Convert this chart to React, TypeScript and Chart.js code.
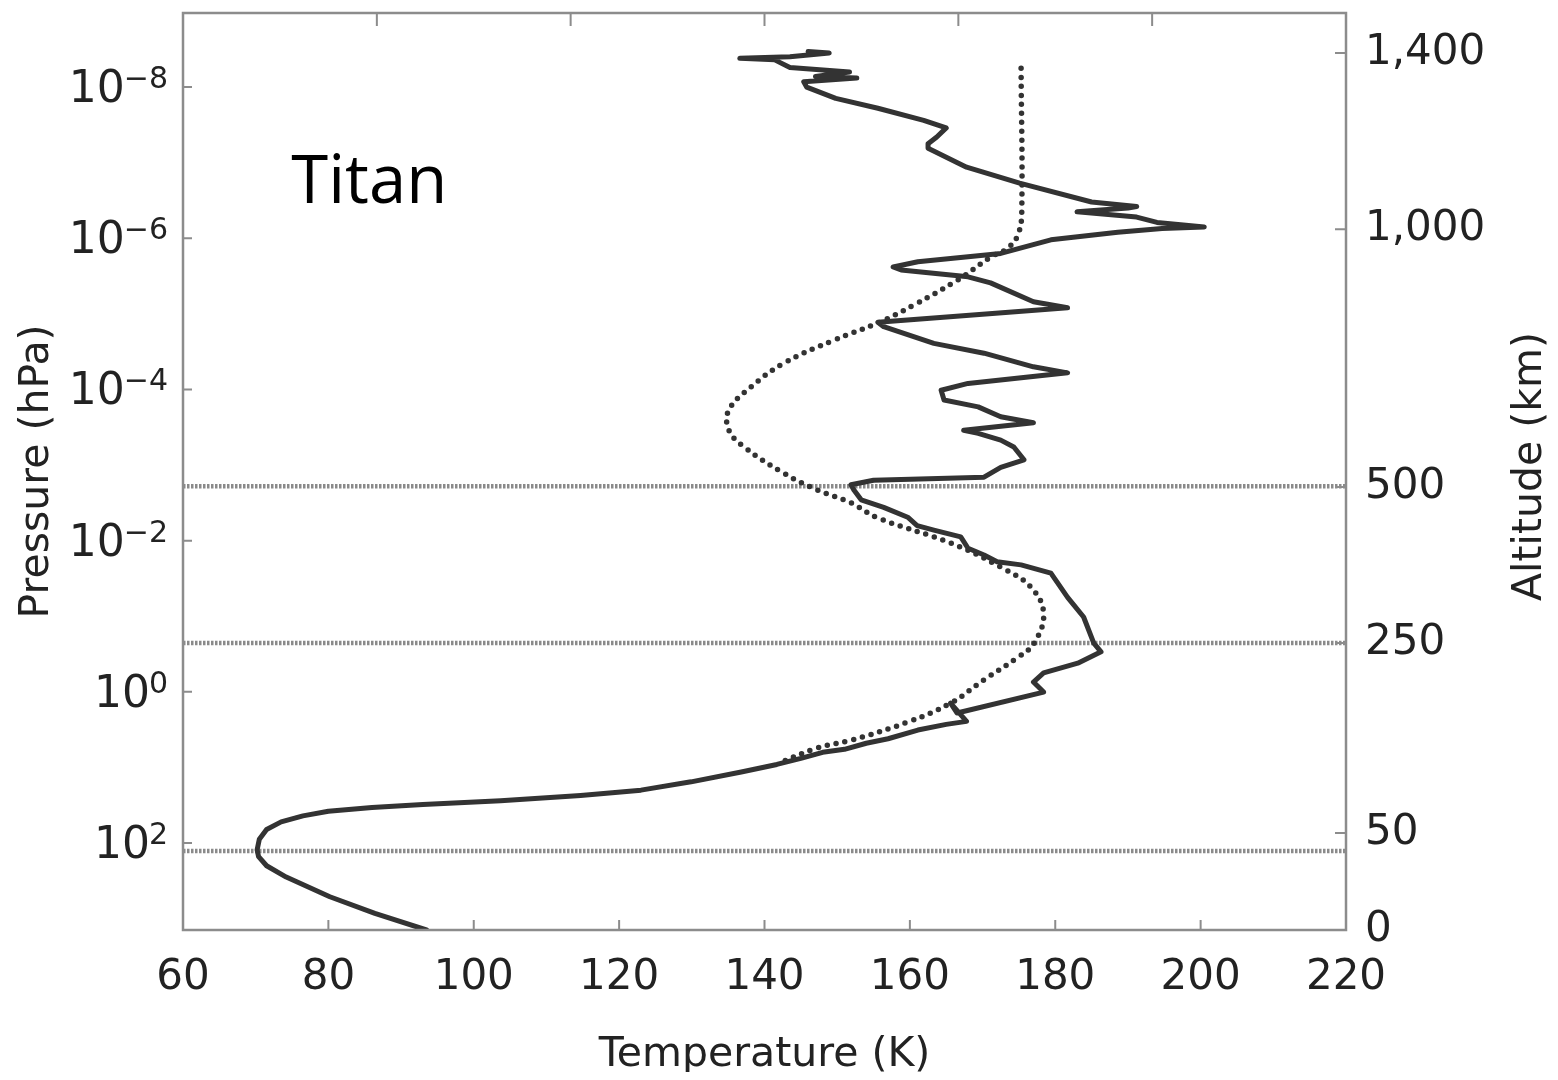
import React, { useEffect, useRef } from 'react';
import { Chart, registerables } from 'chart.js';

Chart.register(...registerables);

// ---- Data ----
// Measured temperature profile (solid), from surface upward
const solidTemp = [
  93.5, 86.4, 80.2, 74.2, 71.5, 70.4, 70.2, 70.5, 71.5, 73.5, 76.5, 80, 86, 93, 103.7, 114.7, 123, 129.9, 136.8,
  141.7, 145, 148, 151, 154, 157, 161.1, 165, 167.8, 165.6, 166.5, 178.4, 177, 178.4, 183.1, 186.3, 185.3, 183.9,
  181.7, 179.4, 175.3, 172, 170.2, 168, 167, 163.3, 161, 159.7, 156.4, 153.3, 152.3, 151.9, 155, 170.2, 172.5,
  175.7, 174.3, 172.5, 169.4, 167.4, 177, 172.5, 169.4, 164.7, 164.3, 168, 181.7, 177, 170.2, 163.3, 156.4, 155.6,
  181.7, 177, 171.1, 168, 158.8, 157.7, 161.1, 172.5, 179.4, 188.6, 194.7, 200.5, 194, 191.2, 183, 190, 191.2, 185,
  175.1, 167.8, 162.5, 162.5, 163.7, 165, 161.9, 155.6, 149.8, 145.8, 145.4, 152.7, 147, 151.7, 143.5, 141.4, 136.6,
  143.5, 148.9, 146,
];
const solidLogP = [
  3.15, 2.93, 2.71, 2.45, 2.3, 2.18, 2.09, 1.95, 1.82, 1.72, 1.64, 1.58, 1.53, 1.49, 1.44, 1.37, 1.3, 1.19, 1.06,
  0.96, 0.88, 0.8, 0.76, 0.68, 0.62, 0.505, 0.43, 0.39, 0.15, 0.28, 0.003, -0.13, -0.25, -0.38, -0.53, -0.645, -0.99,
  -1.25, -1.57, -1.68, -1.72, -1.81, -1.9, -2.05, -2.14, -2.2, -2.31, -2.44, -2.54, -2.67, -2.74, -2.8, -2.84, -2.97,
  -3.07, -3.24, -3.33, -3.42, -3.46, -3.56, -3.64, -3.77, -3.86, -3.99, -4.08, -4.22, -4.3, -4.48, -4.61, -4.83, -4.89,
  -5.08, -5.16, -5.41, -5.49, -5.58, -5.62, -5.69, -5.8, -5.98, -6.08, -6.13, -6.15, -6.21, -6.28, -6.35, -6.4, -6.42, -6.48,
  -6.73, -6.94, -7.19, -7.25, -7.34, -7.46, -7.56, -7.72, -7.85, -8.0, -8.07, -8.12, -8.14, -8.2, -8.26, -8.36, -8.38,
  -8.4, -8.45, -8.47,
];

// Model profile (dotted), from top downward
const modelTemp = [
  175.3, 175.4, 175.0, 173.6, 171.1, 166.6, 160.6, 155.6, 149.5, 142.7, 138.1, 135.1, 135.1, 137.2, 142.7,
  147.3, 151.9, 155.6, 165.6, 172.5, 176.6, 178.4, 177.1, 174.9, 170.2, 165.6, 159.7, 151.9, 147.3, 142.3,
];
const modelLogP = [
  -8.25, -6.41, -6.08, -5.88, -5.75, -5.45, -5.12, -4.88, -4.65, -4.35, -4.03, -3.73, -3.46, -3.24, -2.89,
  -2.67, -2.5, -2.3, -1.97, -1.65, -1.39, -1.04, -0.645, -0.46, -0.16, 0.15, 0.4, 0.64, 0.74, 0.93,
];

// Horizontal reference levels (log10 hPa)
const refLineLogP = [-2.72, -0.645, 2.106];

// Axes
const tempMin = 60;
const tempMax = 220;
const tempStep = 20;
const topTickTemps = [86.67, 113.33, 140, 166.67, 193.33];
const logPMin = -8.98;
const logPMax = 3.15;
const pressureTickExps = [-8, -6, -4, -2, 0, 2];
const altitudeLabels = ['1,400', '1,000', '500', '250', '50', '0'];
const altitudeLogP = [-8.45, -6.12, -2.71, -0.645, 1.868, 3.15];

const titanLabel = 'Titan';
const titanLabelT = 74.9;
const titanLabelLogP = -6.47;

const FONT = "'DejaVu Sans', 'Liberation Sans', sans-serif";
const INK = '#222';
const AXIS_GREY = '#8c8c8c';

const noPad = (s: any) => {
  s.paddingTop = 0;
  s.paddingBottom = 0;
  s.paddingLeft = 0;
  s.paddingRight = 0;
};

const decorPlugin = {
  id: 'decor',
  afterDatasetsDraw(chart: any) {
    const { ctx, chartArea: a, scales } = chart;
    const xs = scales.x;
    const ys = scales.y;
    const y2 = scales.y2;
    ctx.save();
    // inward tick marks
    ctx.strokeStyle = AXIS_GREY;
    ctx.lineWidth = 2;
    ctx.beginPath();
    for (let t = tempMin + tempStep; t < tempMax; t += tempStep) {
      const px = xs.getPixelForValue(t);
      ctx.moveTo(px, a.bottom);
      ctx.lineTo(px, a.bottom - 10);
    }
    for (const t of topTickTemps) {
      const px = xs.getPixelForValue(t);
      ctx.moveTo(px, a.top);
      ctx.lineTo(px, a.top + 13);
    }
    for (const e of pressureTickExps) {
      const py = ys.getPixelForValue(Math.pow(10, e));
      ctx.moveTo(a.left, py);
      ctx.lineTo(a.left + 9, py);
    }
    for (const lp of altitudeLogP) {
      const py = y2.getPixelForValue(Math.pow(10, lp));
      if (Math.abs(py - a.bottom) < 2) continue;
      ctx.moveTo(a.right, py);
      ctx.lineTo(a.right - 11, py);
    }
    ctx.stroke();
    // frame
    ctx.lineWidth = 2.5;
    ctx.strokeRect(a.left, a.top, a.right - a.left, a.bottom - a.top);

    // left tick labels 10^n
    ctx.fillStyle = INK;
    const rightEdge = a.left - 15;
    for (const e of pressureTickExps) {
      const py = ys.getPixelForValue(Math.pow(10, e));
      const sup = e < 0 ? '\u2212' + Math.abs(e) : String(e);
      ctx.font = `30px ${FONT}`;
      const supW = ctx.measureText(sup).width;
      ctx.textAlign = 'left';
      ctx.textBaseline = 'alphabetic';
      ctx.fillText(sup, rightEdge - supW, py + 1);
      ctx.font = `44px ${FONT}`;
      ctx.textAlign = 'right';
      ctx.fillText('10', rightEdge - supW + 1, py + 15);
    }

    // right axis title (reads bottom to top)
    ctx.save();
    ctx.font = `41px ${FONT}`;
    ctx.fillStyle = INK;
    ctx.textAlign = 'center';
    ctx.textBaseline = 'middle';
    ctx.translate(y2.right - 20, (a.top + a.bottom) / 2 - 5);
    ctx.rotate(-Math.PI / 2);
    ctx.fillText('Altitude (km)', 0, 0);
    ctx.restore();

    // Titan label
    ctx.font = `67px 'Open Sans', 'Noto Sans', sans-serif`;
    ctx.fillStyle = '#000';
    ctx.textAlign = 'left';
    ctx.textBaseline = 'alphabetic';
    ctx.fillText(titanLabel, xs.getPixelForValue(titanLabelT), ys.getPixelForValue(Math.pow(10, titanLabelLogP)));
    ctx.restore();
  },
};

export default function App() {
  const ref = useRef<HTMLCanvasElement | null>(null);
  useEffect(() => {
    if (!ref.current) return;
    const solid = solidTemp.map((t, i) => ({ x: t, y: Math.pow(10, solidLogP[i]) }));
    const model = modelTemp.map((t, i) => ({ x: t, y: Math.pow(10, modelLogP[i]) }));
    const refSets = refLineLogP.map((lp) => ({
      data: [
        { x: tempMin, y: Math.pow(10, lp) },
        { x: tempMax, y: Math.pow(10, lp) },
      ],
      borderColor: '#8a8a8a',
      borderWidth: 4.5,
      borderDash: [2.5, 1.5],
      pointRadius: 0,
      showLine: true,
      yAxisID: 'y',
    }));
    const chart = new Chart(ref.current, {
      type: 'scatter',
      data: {
        datasets: [
          {
            data: solid,
            borderColor: '#333',
            borderWidth: 5,
            pointRadius: 0,
            showLine: true,
            tension: 0,
            borderJoinStyle: 'round',
            borderCapStyle: 'round',
            yAxisID: 'y',
          },
          {
            data: model,
            borderColor: '#333',
            borderWidth: 5.5,
            borderDash: [0, 9],
            borderCapStyle: 'round',
            pointRadius: 0,
            showLine: true,
            tension: 0.4,
            yAxisID: 'y',
          },
          ...refSets,
        ] as any,
      },
      options: {
        animation: false,
        responsive: false,
        layout: { padding: { top: 5, left: 0, right: 0, bottom: 0 } },
        plugins: { legend: { display: false }, tooltip: { enabled: false }, title: { display: false } },
        scales: {
          x: {
            type: 'linear',
            position: 'bottom',
            min: tempMin,
            max: tempMax,
            grid: { display: false },
            border: { display: false },
            ticks: {
              stepSize: tempStep,
              padding: 19,
              color: INK,
              font: { family: FONT, size: 42, lineHeight: 1 },
              maxRotation: 0,
              autoSkip: false,
            },
            title: {
              display: true,
              text: 'Temperature (K)',
              color: INK,
              font: { family: FONT, size: 41, lineHeight: 1 },
              padding: { top: 0, bottom: -4 },
            },
            afterFit: (s: any) => {
              s.height = 142;
              noPad(s);
            },
          },
          y: {
            type: 'logarithmic',
            position: 'left',
            reverse: true,
            min: Math.pow(10, logPMin),
            max: Math.pow(10, logPMax),
            grid: { display: false },
            border: { display: false },
            ticks: { display: false },
            afterBuildTicks: (s: any) => {
              s.ticks = pressureTickExps.map((e) => ({ value: Math.pow(10, e) }));
            },
            title: {
              display: true,
              text: 'Pressure (hPa)',
              color: INK,
              font: { family: FONT, size: 41, lineHeight: 1 },
              padding: { top: 8.5, bottom: 0 },
            },
            afterFit: (s: any) => {
              s.width = 175;
              noPad(s);
            },
          },
          y2: {
            type: 'logarithmic',
            position: 'right',
            reverse: true,
            min: Math.pow(10, logPMin),
            max: Math.pow(10, logPMax),
            grid: { display: false },
            border: { display: false },
            afterBuildTicks: (s: any) => {
              s.ticks = altitudeLogP.map((lp) => ({ value: Math.pow(10, lp) }));
            },
            ticks: {
              autoSkip: false,
              padding: 11,
              color: INK,
              font: { family: FONT, size: 42, lineHeight: 1 },
              callback: (_v: any, i: number) => altitudeLabels[i],
            },
            afterFit: (s: any) => {
              s.width = 204;
              noPad(s);
            },
          },
        },
      } as any,
      plugins: [decorPlugin],
    });
    return () => chart.destroy();
  }, []);
  return (
    <canvas ref={ref} width={1542} height={1064} style={{ display: 'block', width: 1542, height: 1064 }} />
  );
}
